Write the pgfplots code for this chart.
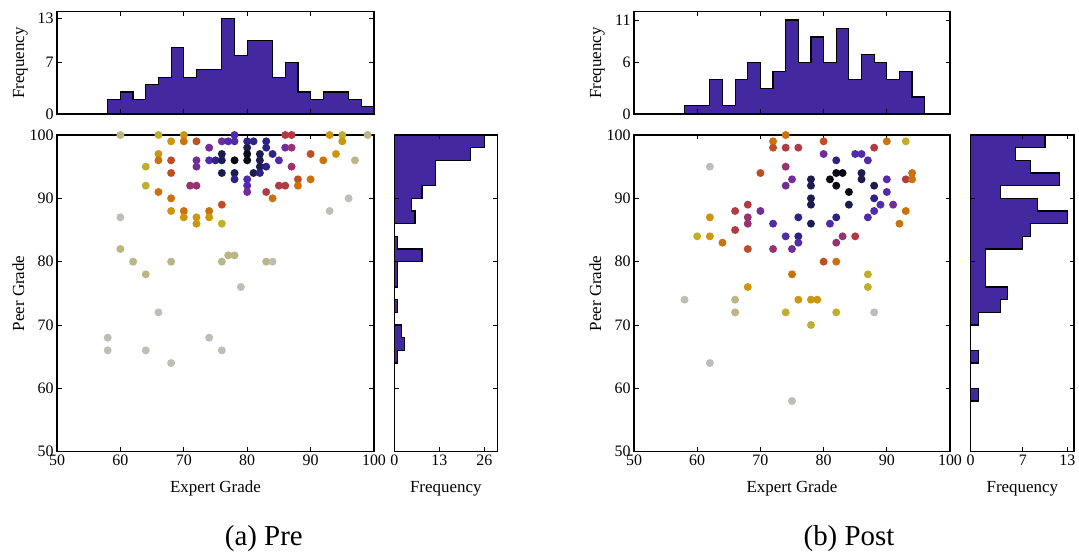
\documentclass[border=0pt]{standalone}
\usepackage{fontspec}
\setmainfont{Liberation Serif}
\usepackage{pgfplots}
\pgfplotsset{compat=1.18}
\definecolor{histc}{RGB}{67,40,159}
\pgfplotsset{
  colormap={dens}{rgb255=(10,10,20) rgb255=(28,28,80) rgb255=(45,35,135) rgb255=(82,42,172) rgb255=(115,45,150) rgb255=(152,50,112) rgb255=(178,58,66) rgb255=(192,78,36) rgb255=(202,114,12) rgb255=(204,150,14) rgb255=(192,175,45) rgb255=(186,182,135) rgb255=(190,190,184)},
  base/.style={scale only axis, axis on top, tick align=inside, xtick pos=both, ytick pos=both,
    major tick length=4.5bp, every tick/.style={black, line width=0.8bp},
    axis line style={line width=1.2bp},
    tick label style={font=\fontsize{16}{16}\selectfont},
    /pgf/number format/assume math mode=true,
    every axis x label/.style={at={([yshift=-41bp]axis description cs:0.5,0)}, anchor=base, font=\fontsize{17}{17}\selectfont},
    every axis y label/.style={at={([xshift=-33bp]axis description cs:0,0.5)}, anchor=base, rotate=90, font=\fontsize{17}{17}\selectfont},
  },
  sc/.style={base, width=317bp, height=316.7bp, xmin=50, xmax=100, ymin=50, ymax=100,
    xtick={50,60,...,100}, ytick={50,60,...,100}, xlabel={Expert Grade}, ylabel={Peer Grade},
    point meta min=0, point meta max=12, every mark/.append style={scale=1}},
  hist/.style={fill=histc, draw=black, line width=1.2bp},
  dots/.style={scatter, only marks, mark=*, mark size=4bp, line width=0pt, point meta=explicit,
    scatter/use mapped color={draw opacity=0, fill=mapped color}},
}
\begin{document}
\begin{tikzpicture}
\useasboundingbox (0,0) rectangle (1079bp,554bp);
% ---------------- Pre ----------------
\begin{axis}[base, at={(57bp,440bp)}, anchor=south west, width=317bp, height=102.3bp,
  xmin=50, xmax=100, ymin=0, ymax=13.9, xtick={60,70,80,90}, xticklabels={}, ytick={0,7,13}, ylabel={Frequency}]
\addplot[hist, const plot mark left] coordinates {(58,0)(58,2)(60,3)(62,2)(64,4)(66,5)(68,9)(70,5)(72,6)(74,6)(76,13)(78,8)(80,10)(82,10)(84,5)(86,7)(88,3)(90,2)(92,3)(94,3)(96,2)(98,1)(100,0)} -- cycle;
\end{axis}
\begin{axis}[sc, at={(57bp,102.3bp)}, anchor=south west]
\addplot[dots] table[meta=c, row sep=\\] {
x y c\\
60 100 11\\ 66 100 10\\ 70 100 9\\ 78 100 3\\ 86 100 6\\ 87 100 6\\ 93 100 9\\ 95 100 10\\ 99 100 11\\
68 99 9\\ 70 99 8\\ 72 99 7\\ 76 99 4\\ 77 99 3\\ 78 99 3\\ 80 99 2\\ 81 99 2\\ 83 99 2\\ 95 99 9\\
74 98 4\\ 80 98 1\\ 83 98 2\\ 86 98 4\\ 87 98 5\\
66 97 9\\ 76 97 1\\ 80 97 0\\ 82 97 1\\ 84 97 2\\ 90 97 7\\ 94 97 9\\
66 96 8\\ 68 96 7\\ 72 96 4\\ 74 96 3\\ 75 96 2\\ 76 96 1\\ 78 96 0\\ 80 96 0\\ 82 96 1\\ 85 96 3\\ 92 96 8\\ 97 96 11\\
64 95 10\\ 72 95 4\\ 82 95 1\\ 83 95 2\\ 87 95 5\\
68 94 7\\ 76 94 1\\ 78 94 1\\ 81 94 1\\ 82 94 2\\
78 93 2\\ 80 93 3\\ 88 93 7\\ 90 93 8\\
64 92 10\\ 71 92 5\\ 72 92 5\\ 80 92 3\\ 85 92 6\\ 86 92 6\\ 88 92 8\\
66 91 8\\ 80 91 4\\ 83 91 6\\
68 90 8\\ 84 90 8\\ 96 90 12\\
76 89 7\\
68 88 9\\ 70 88 8\\ 74 88 8\\ 93 88 12\\
60 87 12\\ 70 87 9\\ 72 87 9\\ 74 87 9\\
72 86 9\\ 76 86 10\\
60 82 11\\ 77 81 11\\ 78 81 11\\
62 80 11\\ 68 80 11\\ 76 80 11\\ 83 80 11\\ 84 80 12\\
64 78 11\\ 79 76 12\\ 66 72 12\\
58 68 12\\ 74 68 12\\ 58 66 12\\ 64 66 12\\ 76 66 12\\ 68 64 12\\
};
\end{axis}
\begin{axis}[base, at={(394.3bp,102.3bp)}, anchor=south west, width=103bp, height=316.7bp,
  xmin=0, xmax=29.77, ymin=50, ymax=100, xtick={0,13,26}, ytick={60,70,80,90}, yticklabels={}, xlabel={Frequency}]
\addplot[hist, const plot mark right] coordinates {(0,100)(26,100)(22,98)(12,96)(12,94)(8,92)(5,90)(6,88)(0,86)(1,84)(8,82)(1,80)(1,78)(0,76)(1,74)(0,72)(2,70)(3,68)(1,66)(0,64)} -- cycle;
\end{axis}
\node[font=\fontsize{29}{29}\selectfont, anchor=base] at (263.8bp,9bp) {(a) Pre};
% ---------------- Post ----------------
\begin{axis}[base, at={(634bp,440bp)}, anchor=south west, width=316bp, height=102.3bp,
  xmin=50, xmax=100, ymin=0, ymax=11.97, xtick={60,70,80,90}, xticklabels={}, ytick={0,6,11}, ylabel={Frequency}]
\addplot[hist, const plot mark left] coordinates {(58,0)(58,1)(60,1)(62,4)(64,1)(66,4)(68,6)(70,3)(72,5)(74,11)(76,6)(78,9)(80,6)(82,10)(84,4)(86,7)(88,6)(90,4)(92,5)(94,2)(96,0)} -- cycle;
\end{axis}
\begin{axis}[sc, at={(634bp,102.3bp)}, anchor=south west, width=316bp]
\addplot[dots] table[meta=c, row sep=\\] {
x y c\\
74 100 8\\ 72 99 8\\ 80 99 7\\ 90 99 8\\ 93 99 10\\
72 98 7\\ 74 98 6\\ 76 98 6\\ 88 98 6\\
80 97 4\\ 85 97 3\\ 86 97 3\\ 82 96 2\\ 87 96 3\\
62 95 12\\ 74 95 5\\
70 94 7\\ 82 94 0\\ 83 94 0\\ 86 94 1\\ 94 94 8\\
75 93 4\\ 78 93 1\\ 81 93 0\\ 86 93 1\\ 90 93 3\\ 93 93 6\\ 94 93 8\\
74 92 4\\ 78 92 1\\ 82 92 0\\ 88 92 1\\
84 91 0\\ 90 91 3\\ 78 90 1\\ 88 90 2\\
68 89 6\\ 78 89 1\\ 84 89 1\\ 89 89 3\\ 91 89 4\\
66 88 6\\ 70 88 4\\ 88 88 3\\ 93 88 8\\
62 87 9\\ 68 87 5\\ 76 87 2\\ 82 87 2\\ 87 87 3\\
68 86 5\\ 72 86 3\\ 78 86 1\\ 81 86 3\\ 92 86 8\\
66 85 6\\
60 84 10\\ 62 84 9\\ 74 84 3\\ 76 84 2\\ 83 84 5\\ 85 84 6\\
64 83 8\\ 76 83 3\\ 82 83 5\\
68 82 7\\ 72 82 5\\ 75 82 4\\
80 80 7\\ 82 80 8\\
75 78 8\\ 87 78 10\\ 68 76 9\\ 87 76 10\\
58 74 12\\ 66 74 11\\ 76 74 9\\ 78 74 9\\ 79 74 9\\
66 72 11\\ 74 72 10\\ 82 72 10\\ 88 72 12\\
78 70 10\\ 62 64 12\\ 75 58 12\\
};
\end{axis}
\begin{axis}[base, at={(970.7bp,102.3bp)}, anchor=south west, width=103.3bp, height=316.7bp,
  xmin=0, xmax=13.9, ymin=50, ymax=100, xtick={0,7,13}, ytick={60,70,80,90}, yticklabels={}, xlabel={Frequency}]
\addplot[hist, const plot mark right] coordinates {(0,100)(10,100)(6,98)(8,96)(12,94)(4,92)(9,90)(13,88)(8,86)(7,84)(2,82)(2,80)(2,78)(5,76)(4,74)(1,72)(0,70)(0,68)(1,66)(0,64)(0,62)(1,60)(0,58)} -- cycle;
\end{axis}
\node[font=\fontsize{29}{29}\selectfont, anchor=base] at (849bp,9bp) {(b) Post};
\end{tikzpicture}
\end{document}
